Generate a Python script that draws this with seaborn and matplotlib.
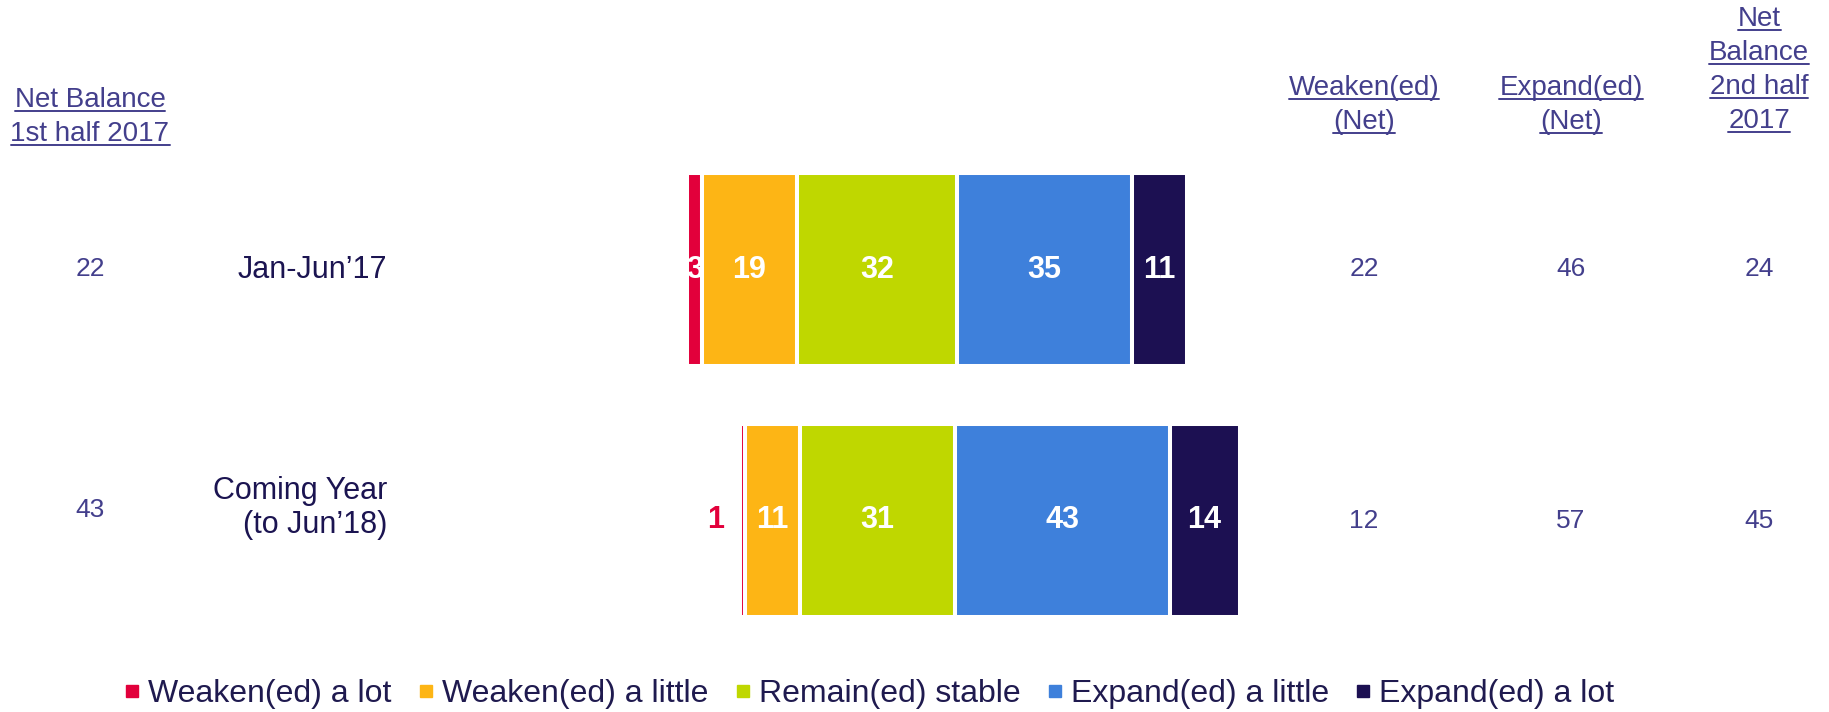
import matplotlib
matplotlib.use("Agg")
import matplotlib.pyplot as plt
import matplotlib.transforms as mtransforms
from matplotlib.lines import Line2D
import seaborn as sns
import pandas as pd
import numpy as np

# data
periods = ["Jan-Jun’17", "Coming Year\n(to Jun’18)"]
categories = ["Weaken(ed) a lot", "Weaken(ed) a little", "Remain(ed) stable",
              "Expand(ed) a little", "Expand(ed) a lot"]
weaken_lot = [3, 1]
weaken_little = [19, 11]
remain_stable = [32, 31]
expand_little = [35, 43]
expand_lot = [11, 14]

net_first_half = [22, 43]
weaken_net = [22, 12]
expand_net = [46, 57]
net_second_half = [24, 45]

colors = ["#E2003B", "#FDB515", "#BFD700", "#3E80DB", "#1C1052"]
num_color = "#433F8C"
label_color = "#1B1451"

W, H = 1829, 712

sns.set_theme(style="white")
plt.rcParams['font.family'] = ['Liberation Sans', 'DejaVu Sans']

# long table with the left edge of each segment (diverging around the stable middle)
values = np.array([weaken_lot, weaken_little, remain_stable, expand_little, expand_lot])
start = -(values[0] + values[1] + values[2] / 2)
lefts = start + np.vstack([np.zeros(2), np.cumsum(values, axis=0)[:-1]])
rows = []
for ci, cat in enumerate(categories):
    for pi, per in enumerate(periods):
        rows.append({"period": per, "category": cat, "value": values[ci, pi],
                     "left": lefts[ci, pi]})
df = pd.DataFrame(rows)

fig = plt.figure(figsize=(W / 100, H / 100), dpi=100)
ax = fig.add_axes([0, 0, 1, 1])

for ci, cat in enumerate(categories):
    sub = df[df["category"] == cat]
    sns.barplot(data=sub, x="value", y="period", order=periods, orient="h",
                color=colors[ci], saturation=1, errorbar=None, width=0.77,
                left=sub["left"].to_numpy(), edgecolor="white", linewidth=2.9,
                ax=ax)

# 5 px per unit, stable segment centred at x=877 px
ax.set_xlim(-877 / 5, (W - 877) / 5)
ax.set_ylim((H - 269.5) / 251, -269.5 / 251)
ax.axis("off")

# labels inside the bars
for _, r in df.iterrows():
    yi = periods.index(r["period"])
    if r["value"] < 2:
        ax.text(r["left"] - 3, yi, f"{r['value']:g}", ha="right", va="center",
                color=colors[0], fontsize=22, fontweight="bold")
    else:
        ax.text(r["left"] + r["value"] / 2, yi, f"{r['value']:g}", ha="center",
                va="center", color="white", fontsize=22, fontweight="bold")

# text columns: x in figure pixels, y tied to the bar rows
row_tr = mtransforms.blended_transform_factory(fig.transFigure, ax.transData)
off = [0, -0.05]
for i, per in enumerate(periods):
    ax.text(387 / W, i + off[i], per, transform=row_tr, ha="right", va="center",
            multialignment="right", linespacing=1.15, fontsize=22, color=label_color)
    ax.text(90 / W, i + off[i] * 0.8, str(net_first_half[i]), transform=row_tr,
            ha="center", va="center", fontsize=19, color=num_color)
    for xpx, arr in [(1364, weaken_net), (1571, expand_net), (1759, net_second_half)]:
        ax.text(xpx / W, i, str(arr[i]), transform=row_tr, ha="center",
                va="center", fontsize=19, color=num_color)

# underlined headers
headers = []
for xpx, lines in [(90, [("Net Balance", 107), ("1st half 2017", 141)]),
                   (1364, [("Weaken(ed)", 95), ("(Net)", 129)]),
                   (1571, [("Expand(ed)", 95), ("(Net)", 129)]),
                   (1759, [("Net", 25.5), ("Balance", 59.5), ("2nd half", 93.5), ("2017", 127.5)])]:
    for txt, ybase in lines:
        t = fig.text(xpx / W, 1 - ybase / H, txt, ha="center", va="baseline",
                     fontsize=20, color=num_color)
        headers.append(t)

fig.canvas.draw()
renderer = fig.canvas.get_renderer()
for t in headers:
    bb = t.get_window_extent(renderer)
    yb = t.get_transform().transform(t.get_position())[1] - 4
    fig.add_artist(Line2D([bb.x0 / W, bb.x1 / W], [yb / H, yb / H],
                          transform=fig.transFigure, color=num_color, lw=1.4))

# legend
handles = [Line2D([], [], marker="s", linestyle="none", markersize=8.5,
                  color=c, label=cat) for c, cat in zip(colors, categories)]
fig.legend(handles=handles, loc="center left", bbox_to_anchor=(124 / W, 1 - 694 / H),
           ncol=5, frameon=False, fontsize=23, handlelength=0.5, handletextpad=0.25,
           columnspacing=0.83, borderpad=0, borderaxespad=0, labelcolor="#1F1A4F")

fig.savefig("out.png", dpi=100)
